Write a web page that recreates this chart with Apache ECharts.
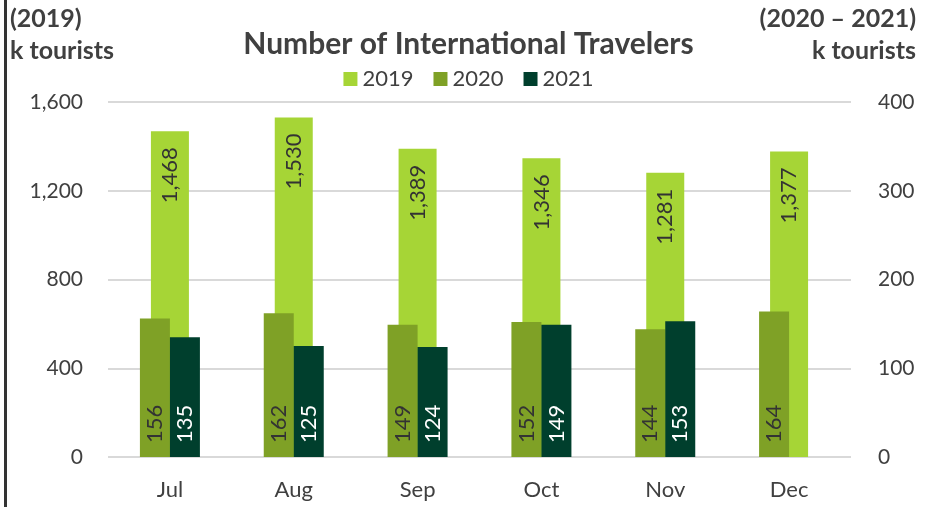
<!DOCTYPE html>
<html>
<head>
<meta charset="utf-8">
<script src="https://cdn.jsdelivr.net/npm/echarts@6/dist/echarts.min.js"></script>
<style>
  html, body { margin: 0; padding: 0; background: #fff; }
  #main { width: 937px; height: 507px; }
  .edge { position: absolute; left: 4px; top: 0; width: 3px; height: 507px; background: #333; }
</style>
</head>
<body>
<div class="edge"></div>
<div id="main"></div>
<script>
// months on the x axis
const months = ['Jul', 'Aug', 'Sep', 'Oct', 'Nov', 'Dec'];
// k tourists, 2019 on left axis
const y2019 = [1468, 1530, 1389, 1346, 1281, 1377];
// k tourists, 2020 / 2021 on right axis
const y2020 = [156, 162, 149, 152, 144, 164];
const y2021 = [135, 125, 124, 149, 153, null];

const leftTicks = [0, 400, 800, 1200, 1600];
const rightTicks = [0, 100, 200, 300, 400];

const FONT = 'Lato, "Open Sans", sans-serif';
const TXT = '#404040';

let chart = echarts.init(document.getElementById('main'));

const cornerStyle = { fontFamily: FONT, fontSize: 25, fontWeight: 'bold', fill: TXT };

let option = {
  animation: false,
  textStyle: { fontFamily: FONT },
  title: {
    text: 'Number of International Travelers',
    left: 'center',
    top: 24,
    textStyle: { fontFamily: FONT, fontSize: 30, fontWeight: 'bold', color: TXT }
  },
  graphic: [
    { type: 'text', left: 10, top: 6, style: Object.assign({ text: '(2019)' }, cornerStyle) },
    { type: 'text', left: 10, top: 38, style: Object.assign({ text: 'k tourists' }, cornerStyle) },
    { type: 'text', right: 21, top: 6, style: Object.assign({ text: '(2020 \u2013 2021)' }, cornerStyle) },
    { type: 'text', right: 21, top: 38, style: Object.assign({ text: 'k tourists' }, cornerStyle) }
  ],
  legend: {
    top: 63,
    left: 'center',
    itemWidth: 14,
    itemHeight: 14,
    itemGap: 20,
    icon: 'rect',
    textStyle: { fontFamily: FONT, fontSize: 22, color: TXT },
    data: ['2019', '2020', '2021']
  },
  grid: { left: 108, right: 86, top: 102, bottom: 50 },
  xAxis: [
    {
      type: 'category',
      data: months,
      axisLine: { show: false },
      axisTick: { show: false },
      axisLabel: { fontFamily: FONT, fontSize: 22, color: TXT, margin: 22 }
    },
    {
      type: 'category',
      data: months,
      show: false
    }
  ],
  yAxis: [
    {
      type: 'value',
      min: leftTicks[0],
      max: leftTicks[leftTicks.length - 1],
      interval: 400,
      axisLine: { show: false },
      axisTick: { show: false },
      splitLine: { lineStyle: { color: '#d9d9d9', width: 2 } },
      axisLabel: {
        fontFamily: FONT, fontSize: 21, color: TXT, margin: 25,
        formatter: v => v.toLocaleString('en-US')
      }
    },
    {
      type: 'value',
      min: rightTicks[0],
      max: rightTicks[rightTicks.length - 1],
      interval: 100,
      axisLine: { show: false },
      axisTick: { show: false },
      splitLine: { show: false },
      axisLabel: { fontFamily: FONT, fontSize: 21, color: TXT, margin: 27 }
    }
  ],
  series: [
    {
      name: '2019',
      type: 'bar',
      xAxisIndex: 0,
      yAxisIndex: 0,
      data: y2019,
      barWidth: 38,
      itemStyle: { color: '#A6D536' },
      label: {
        show: true,
        position: 'insideTop',
        distance: 16,
        rotate: 90,
        align: 'right',
        verticalAlign: 'middle',
        fontFamily: FONT,
        fontSize: 22,
        color: '#333333',
        formatter: p => p.value.toLocaleString('en-US')
      }
    },
    {
      name: '2020',
      type: 'bar',
      xAxisIndex: 1,
      yAxisIndex: 1,
      data: y2020,
      barWidth: 30,
      barGap: '0%',
      itemStyle: { color: '#7FA126' },
      label: {
        show: true,
        position: 'insideBottom',
        distance: 14,
        rotate: 90,
        align: 'left',
        verticalAlign: 'middle',
        fontFamily: FONT,
        fontSize: 22,
        color: '#333333'
      }
    },
    {
      name: '2021',
      type: 'bar',
      xAxisIndex: 1,
      yAxisIndex: 1,
      data: y2021,
      barWidth: 30,
      barGap: '0%',
      itemStyle: { color: '#003F2D' },
      label: {
        show: true,
        position: 'insideBottom',
        distance: 14,
        rotate: 90,
        align: 'left',
        verticalAlign: 'middle',
        fontFamily: FONT,
        fontSize: 22,
        color: '#ffffff'
      }
    }
  ]
};

chart.setOption(option);
</script>
</body>
</html>
